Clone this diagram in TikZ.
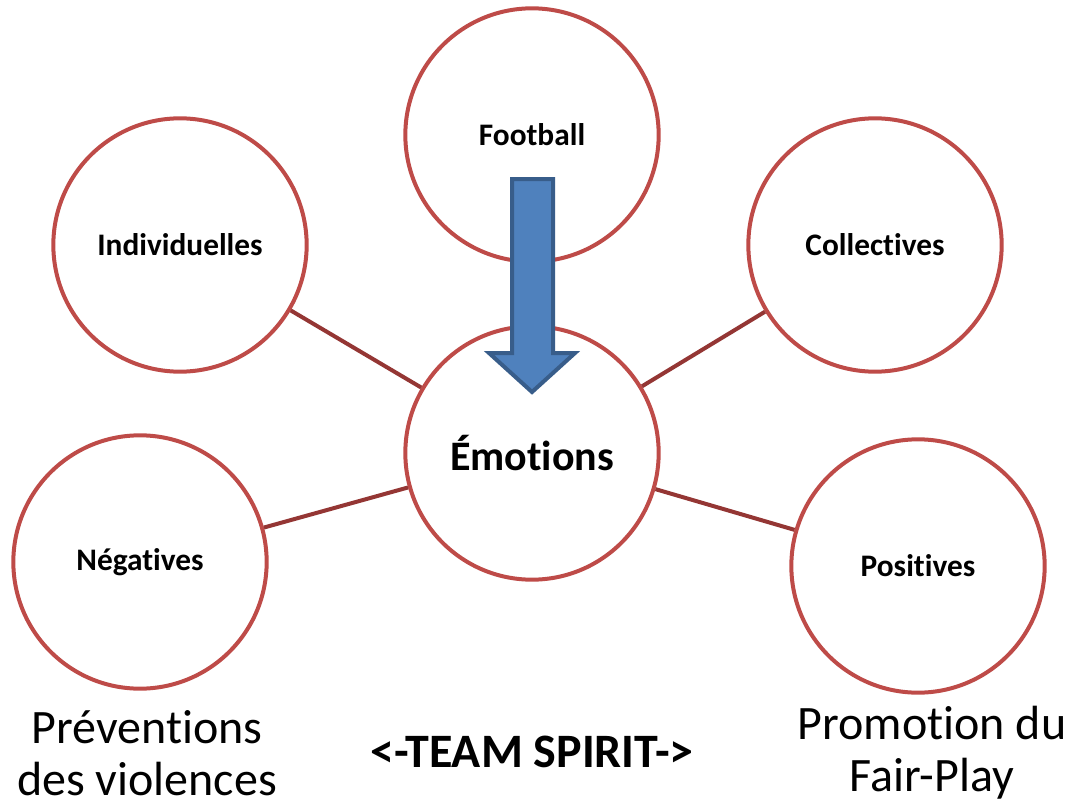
\documentclass[tikz,border=0pt]{standalone}
\usepackage{fontspec}
\setmainfont{Carlito}[Ligatures=NoCommon]
\usetikzlibrary{positioning}

\definecolor{ringred}{HTML}{BE4B48}
\definecolor{linkred}{HTML}{943634}
\definecolor{arrowblue}{HTML}{4F81BD}
\definecolor{arrowedge}{HTML}{385D8A}

\tikzset{
  bubble/.style={circle,draw=ringred,line width=3pt,fill=white,
    minimum size=190pt,inner sep=0pt,font=\bfseries\fontsize{23.5}{28}\selectfont},
  link/.style={draw=linkred,line width=3pt},
  caption/.style={align=center,font=\fontsize{36}{39}\selectfont}
}

\begin{document}
\begin{tikzpicture}[x=0.75pt,y=-0.75pt]
        \useasboundingbox (0,0) rectangle (1070,806);

        % the circles
        \node[bubble] (foot) at (532,135) {Football};
        \node[bubble] (ind)  at (180,245) {Individuelles};
        \node[bubble] (coll) at (875,245) {Collectives};
        \node[bubble,font=\bfseries\fontsize{31.5}{36}\selectfont] (emo) at (532,453) {Émotions};
        \node[bubble] (neg)  at (140,562) {Négatives};
        \node[bubble] (pos)  at (918,566) {Positives};

        % lines to the centre
        \draw[link] (ind)  -- (emo);
        \draw[link] (coll) -- (emo);
        \draw[link] (neg)  -- (emo);
        \draw[link] (pos)  -- (emo);

        % the block arrow from football to emotions
        \draw[fill=arrowblue,draw=arrowedge,line width=3pt,line join=miter]
            (512,179) -- (553,179) -- (553,353) -- (575,353) -- (532,392)
            -- (489,353) -- (512,353) -- cycle;

        % texts at the bottom
        \node[caption] (prev) at (147,753) {Préventions\\des violences};
        \node[caption] (prom) at (932,753) {Promotion du\\Fair-Play};
        \node[font=\bfseries\fontsize{36}{40}\selectfont] (team) at (532,752) {<-TEAM SPIRIT->};
\end{tikzpicture}
\end{document}
